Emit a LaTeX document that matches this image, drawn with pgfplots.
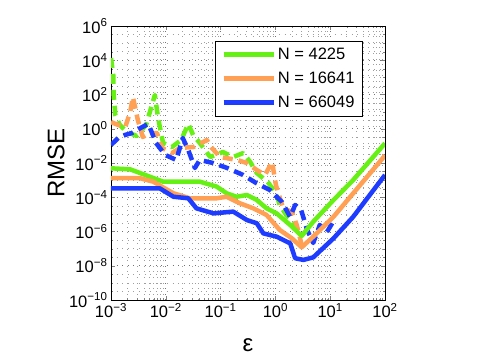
\documentclass[border=0pt]{standalone}
\usepackage{fontspec}
\setmainfont{Liberation Sans}
\usepackage{pgfplots}
\pgfplotsset{compat=1.18}

\definecolor{cgreen}{RGB}{102,240,20}
\definecolor{corange}{RGB}{255,160,85}
\definecolor{cblue}{RGB}{30,60,255}

\begin{document}
\begin{tikzpicture}
\path (-111pt,-56pt) rectangle (369pt,300pt);
\begin{axis}[
    at={(0pt,0pt)}, anchor=south west,
    scale only axis, width=274pt, height=274pt,
    xmode=log, ymode=log,
    xmin=1e-3, xmax=1e2, ymin=1e-10, ymax=1e6,
    xtick={1e-3,1e-2,1e-1,1e0,1e1,1e2},
    xticklabels={10\textsuperscript{−3},10\textsuperscript{−2},10\textsuperscript{−1},
                 10\textsuperscript{0},10\textsuperscript{1},10\textsuperscript{2}},
    ytick={1e-10,1e-8,1e-6,1e-4,1e-2,1e0,1e2,1e4,1e6},
    yticklabels={10\textsuperscript{−10},10\textsuperscript{−8},10\textsuperscript{−6},
                 10\textsuperscript{−4},10\textsuperscript{−2},10\textsuperscript{0},
                 10\textsuperscript{2},10\textsuperscript{4},10\textsuperscript{6}},
    minor ytick={3.16e-10,1e-9,3.16e-9,3.16e-8,1e-7,3.16e-7,3.16e-6,1e-5,3.16e-5,
                 3.16e-4,1e-3,3.16e-3,3.16e-2,1e-1,3.16e-1,3.16,10,31.6,316,1e3,3.16e3,3.16e4,1e5,3.16e5},
    tick label style={font=\fontsize{16.5}{19}\selectfont},
    tick align=inside,
    major tick length=4pt, minor tick length=2pt,
    axis line style={line width=0.8pt},
    grid=both,
    major grid style={black!55, line width=0.6pt, dash pattern=on 0.6pt off 5pt},
    minor grid style={black!38, line width=0.6pt, dash pattern=on 0.6pt off 5pt},
    xlabel={ε},
    ylabel={RMSE},
    xlabel style={font=\fontsize{24}{28}\selectfont, at={(axis description cs:0.5,-0.164)}, anchor=center},
    ylabel style={font=\fontsize{24}{28}\selectfont, at={(axis description cs:-0.20,0.5)}, anchor=center, rotate=0},
    legend style={at={(0.380,0.946)}, anchor=north west, draw=black, line width=0.6pt,
                  fill=white, font=\fontsize{16.5}{19}\selectfont,
                  inner xsep=6pt, inner ysep=5pt, row sep=7pt},
    legend cell align=left,
    legend image code/.code={\draw[#1] (0pt,0pt) -- (50pt,0pt);},
    every axis plot/.append style={line width=4.5pt, line join=round},
]

% dashed curves
\addplot[cgreen, dash pattern=on 10pt off 6pt, forget plot] coordinates {
(1e-3,1.35e4) (1.1e-3,1.38e3) (1.12e-3,93) (1.2e-3,6.3) (1.45e-3,1.66) (1.95e-3,0.646)
(2.95e-3,0.38) (4.37e-3,1.66) (6.31e-3,93) (7.24e-3,4.27) (8.91e-3,0.148) (1.29e-2,0.0851)
(1.91e-2,0.219) (2.57e-2,1.91) (3.16e-2,0.427) (4.17e-2,0.148) (6.46e-2,0.0224) (0.110,0.0437)
(0.170,0.0224) (0.257,0.038) (0.347,0.0115) (0.457,2.63e-3) (0.724,7.76e-4) (1.02,1.78e-4)
(1.20,3.55e-5) (1.62,8.13e-6) (2.09,3.55e-6) (2.82,8.13e-7)
};
\addplot[corange, dash pattern=on 10pt off 6pt, forget plot] coordinates {
(1e-3,2.45) (1.35e-3,1.66) (1.82e-3,1.26) (2.24e-3,9.55) (2.51e-3,70.8) (3.09e-3,3.24)
(3.8e-3,0.331) (5.13e-3,0.562) (6.92e-3,0.562) (8.51e-3,0.0759) (1.29e-2,0.038) (1.82e-2,0.0759)
(3.16e-2,0.0851) (5.62e-2,0.219) (6.92e-2,0.0759) (9.77e-2,0.0224) (0.2,0.0151) (0.302,0.01)
(0.457,3.89e-3) (0.646,2.0e-3) (0.871,0.0115) (1.02,5.25e-4) (1.38,2.34e-5) (2.0,1.38e-5)
(2.45,2.4e-6) (3.02,1.62e-7)
};
\addplot[cblue, dash pattern=on 10pt off 6pt, forget plot] coordinates {
(1e-3,0.112) (1.35e-3,0.288) (1.82e-3,0.437) (2.4e-3,0.562) (3.72e-3,1.26) (4.79e-3,1.91)
(5.62e-3,0.562) (6.61e-3,0.148) (9.77e-3,0.0295) (1.55e-2,0.0151) (2.04e-2,0.288) (2.57e-2,0.0575)
(3.39e-2,5.13e-3) (4.17e-2,0.0151) (7.24e-2,0.01) (0.132,5.13e-3) (0.257,2.0e-3) (0.447,6.76e-4)
(0.794,2.63e-4) (1.32,5.25e-5) (1.86,7.08e-6) (2.29,3.55e-5) (2.95,1.82e-5) (3.80,1.23e-6)
(4.90,2.14e-7) (6.46,2.4e-6) (8.71,9.33e-7) (11.2,3.55e-6)
};

% solid curves
\addplot[cgreen] coordinates {
(1e-3,4.9e-3) (2.24e-3,4.27e-3) (5.13e-3,1.58e-3) (8.91e-3,8.13e-4) (4.17e-2,8.13e-4)
(8.51e-2,4.17e-4) (0.129,1.7e-4) (0.195,1.07e-4) (0.302,1.35e-4) (0.457,6.92e-5) (0.692,2.24e-5)
(1.05,1.15e-5) (1.86,2.4e-6) (3.02,5.5e-7) (4.90,3.72e-6) (11.5,6.92e-5) (26.3,1.02e-3) (100,0.141)
};
\addlegendentry{N = 4225}
\addplot[corange] coordinates {
(1e-3,1.29e-3) (3.39e-3,1.29e-3) (5.89e-3,8.13e-4) (1.38e-2,1.7e-4) (2.75e-2,8.71e-5)
(8.51e-2,8.71e-5) (0.129,1.07e-4) (0.224,4.47e-5) (0.398,2.24e-5) (0.692,9.12e-6) (1.20,1.23e-6)
(2.0,3.98e-7) (3.02,1.2e-7) (4.90,5.01e-7) (11.5,7.24e-6) (26.3,1.7e-4) (100,0.0275)
};
\addlegendentry{N = 16641}
\addplot[cblue] coordinates {
(1e-3,3.31e-4) (7.76e-3,3.31e-4) (1.38e-2,1.07e-4) (2.57e-2,8.71e-5) (3.63e-2,2.24e-5)
(7.41e-2,1.15e-5) (0.170,1.45e-5) (0.302,4.68e-6) (0.457,3.02e-6) (0.603,7.76e-7) (1.05,5.01e-7)
(1.86,2.04e-7) (2.29,2.75e-8) (3.24,2.19e-8) (4.90,3.09e-8) (11.5,3.98e-7) (26.3,7.24e-6) (100,2.0e-3)
};
\addlegendentry{N = 66049}

\end{axis}
\end{tikzpicture}
\end{document}
